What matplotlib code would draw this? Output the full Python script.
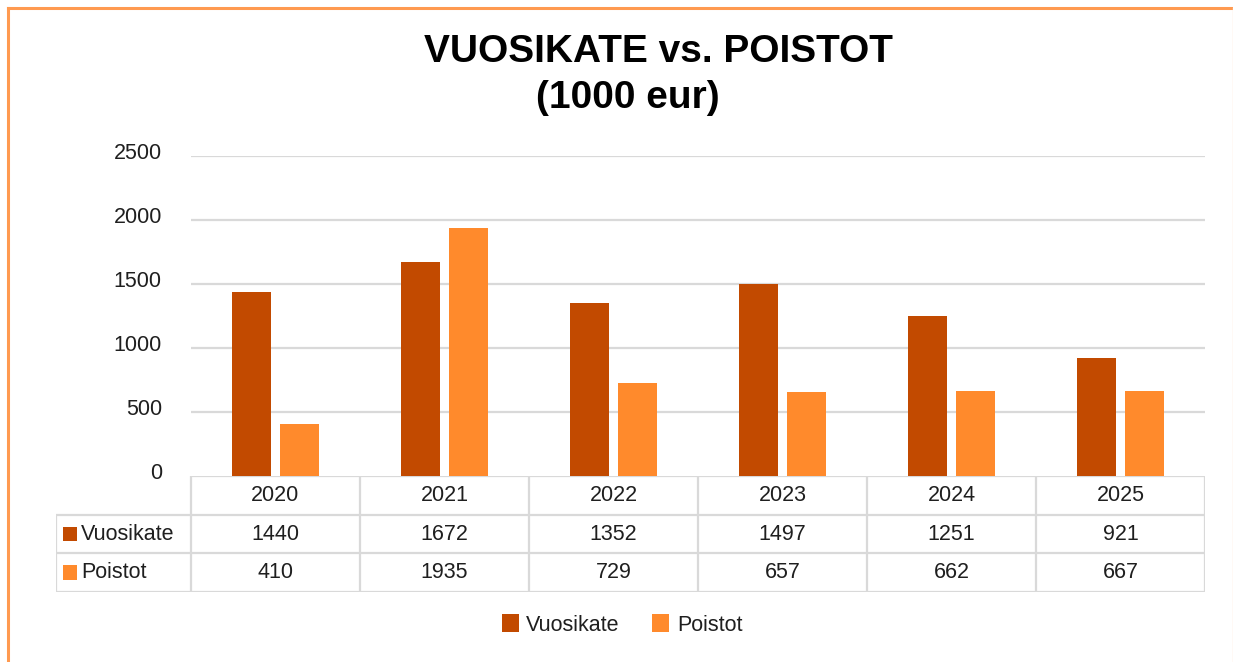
import matplotlib
matplotlib.use("Agg")
import matplotlib.pyplot as plt
import matplotlib.transforms as mtransforms
from matplotlib.patches import Rectangle, Patch
from matplotlib.lines import Line2D

years = ["2020", "2021", "2022", "2023", "2024", "2025"]
series_names = ["Vuosikate", "Poistot"]
vuosikate = [1440, 1672, 1352, 1497, 1251, 921]
poistot = [410, 1935, 729, 657, 662, 667]
yticks = [0, 500, 1000, 1500, 2000, 2500]
title_line1 = "VUOSIKATE vs. POISTOT"
title_line2 = "(1000 eur)"

c_dark = "#C24A00"
c_light = "#FF8A2C"
grid_c = "#D9D9D9"
border_c = "#FF9A50"
txt_c = "#1F1F1F"

FAM = ["Liberation Sans", "DejaVu Sans"]
FS = 15.5

W, H = 1233, 662
fig = plt.figure(figsize=(W / 100, H / 100), dpi=100)
fig.patch.set_facecolor("white")

def fx(px):
    return px / W

def fy(py):
    return 1 - py / H

# orange frame (left and top strong, right faint)
fig.add_artist(Line2D([fx(8), fx(8)], [fy(8), fy(700)], transform=fig.transFigure,
                      color=border_c, linewidth=2.2))
fig.add_artist(Line2D([fx(8), fx(1233)], [fy(8), fy(8)], transform=fig.transFigure,
                      color=border_c, linewidth=2.2))
fig.add_artist(Line2D([fx(1232.5), fx(1232.5)], [fy(8), fy(700)], transform=fig.transFigure,
                      color="#FFE3CF", linewidth=1.0))

# main axes
ax = fig.add_axes([fx(191), fy(476), fx(1205) - fx(191), fy(156) - fy(476)])
n = len(years)
x = list(range(n))
bw = 0.225
off = 0.142
ax.bar([i - off for i in x], vuosikate, width=bw, color=c_dark, zorder=3)
ax.bar([i + off for i in x], poistot, width=bw, color=c_light, zorder=3)
ax.set_xlim(-0.5, n - 0.5)
ax.set_ylim(0, 2500)
ax.set_yticks(yticks)
ax.set_yticklabels([str(v) for v in yticks], family=FAM, fontsize=FS, color=txt_c)
ax.set_xticks([])
for yv in yticks[1:]:
    ax.axhline(yv, color=grid_c, linewidth=1.6, zorder=1)
for s in ax.spines.values():
    s.set_visible(False)
ax.tick_params(axis="y", length=0, pad=21)
shift = mtransforms.ScaledTranslation(0, 5 / 100, fig.dpi_scale_trans)
for lbl in ax.get_yticklabels():
    lbl.set_transform(lbl.get_transform() + shift)

# data table
tax = fig.add_axes([fx(56), fy(592), fx(1205) - fx(56), fy(476) - fy(592)])
hdr_w = 135 / 169
tax.set_xlim(-0.5 - hdr_w, n - 0.5)
tax.set_ylim(0, 3)
tax.axis("off")
lk = dict(color=grid_c, linewidth=1.6, solid_capstyle="butt")
tax.add_line(Line2D([-0.5, n - 0.5], [3, 3], **lk))
for yy in [0, 1, 2]:
    tax.add_line(Line2D([-0.5 - hdr_w, n - 0.5], [yy, yy], **lk))
tax.add_line(Line2D([-0.5 - hdr_w, -0.5 - hdr_w], [0, 2], **lk))
for k in range(n + 1):
    tax.add_line(Line2D([k - 0.5, k - 0.5], [0, 3], **lk))
for i, yr in enumerate(years):
    tax.text(i, 2.5, yr, ha="center", va="center", family=FAM, fontsize=FS, color=txt_c)
    tax.text(i, 1.5, str(vuosikate[i]), ha="center", va="center", family=FAM, fontsize=FS, color=txt_c)
    tax.text(i, 0.5, str(poistot[i]), ha="center", va="center", family=FAM, fontsize=FS, color=txt_c)
row_cols = [c_dark, c_light]
for r, (name, col) in enumerate(zip(series_names, row_cols)):
    yc = 1.5 - r
    sq_w = 14 / 169
    tax.add_patch(Rectangle((-0.5 - hdr_w + 7 / 169, yc - 0.19), sq_w, 0.38,
                            facecolor=col, edgecolor="none"))
    tax.text(-0.5 - hdr_w + 25 / 169, yc, name, ha="left", va="center",
             family=FAM, fontsize=FS, color=txt_c)

# title
fig.text(fx(658), fy(52), title_line1, ha="center", va="center", family=FAM,
         fontweight="bold", fontsize=28, color="black")
fig.text(fx(628), fy(98), title_line2, ha="center", va="center", family=FAM,
         fontweight="bold", fontsize=28, color="black")

# legend
handles = [Patch(facecolor=c_dark, edgecolor="none"), Patch(facecolor=c_light, edgecolor="none")]
leg = fig.legend(handles, series_names, loc="center", bbox_to_anchor=(fx(622), fy(625)),
                 ncol=2, frameon=False, prop={"family": FAM, "size": FS},
                 handlelength=0.8, handleheight=0.9, handletextpad=0.35, columnspacing=1.5)
for t in leg.get_texts():
    t.set_color(txt_c)

fig.savefig("out.png", dpi=100, facecolor="white")
